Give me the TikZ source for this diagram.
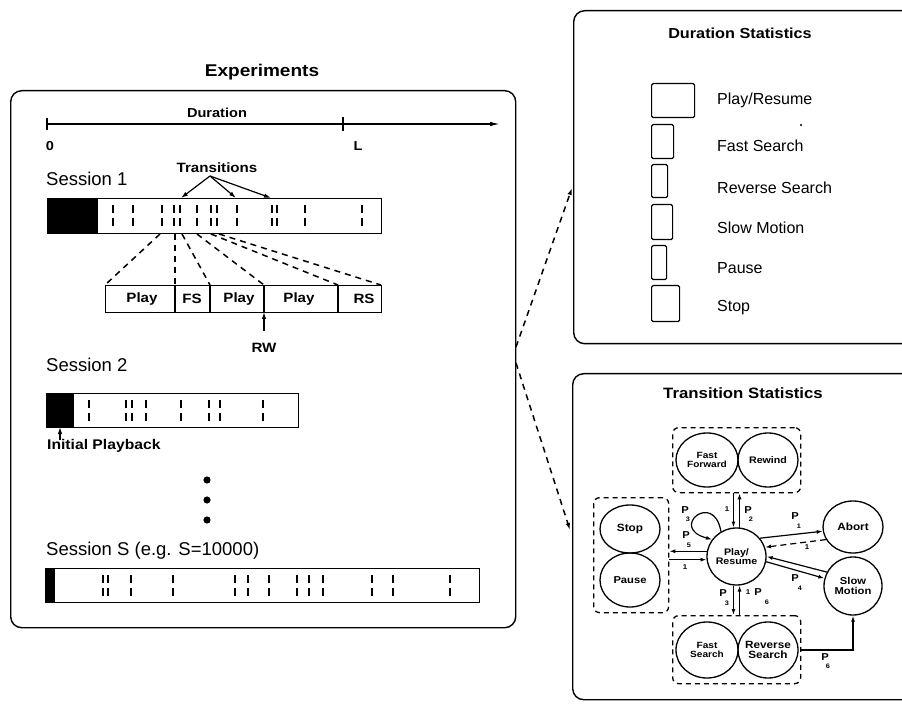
\documentclass[tikz,border=0pt]{standalone}
\usepackage{fontspec}
\setmainfont{Liberation Sans}
\newfontfamily\bw[FakeStretch=1.12]{Liberation Sans}
\usetikzlibrary{arrows.meta,shapes.geometric}
\newcommand\myfs[1]{\fontsize{#1}{#1}\selectfont}
\tikzset{
  lw/.style={line width=1.3pt},
  panel/.style={draw, line width=1.4pt, rounded corners=11pt, inner sep=0pt, anchor=north west},
  btxt/.style={inner sep=0pt, font=\bw\bfseries\myfs{#1}},
  rtxt/.style={inner sep=0pt, font=\myfs{#1}, anchor=base west},
  bar/.style={draw, line width=1.3pt, inner sep=0pt, anchor=north west},
  tk/.style={line width=1.5pt, dash pattern=on 8pt off 5pt},
  zl/.style={line width=1.5pt, dash pattern=on 6pt off 5pt},
  arr/.style={line width=1.2pt, -{Latex[length=7pt,width=4.5pt]}},
  legsq/.style={draw, line width=1.2pt, rounded corners=1.5pt, inner sep=0pt, anchor=north west},
  st/.style={draw, ellipse, line width=1.3pt, inner sep=0pt},
  stt/.style={inner sep=0pt, align=center, font=\bw\bfseries\fontsize{#1}{#1}\selectfont},
  grp/.style={draw, line width=1.3pt, dash pattern=on 5pt off 4pt, rounded corners=6pt, inner sep=0pt, anchor=north west},
  ge/.style={line width=1.2pt, -{Latex[length=6pt,width=4pt]}},
  plab/.style={inner sep=0pt, font=\bw\bfseries\myfs{10}},
  psub/.style={inner sep=0pt, font=\bw\bfseries\myfs{6.5}},
  one/.style={inner sep=0pt, font=\bw\bfseries\myfs{7}},
}
\begin{document}
\begin{tikzpicture}[x=1pt,y=-1pt]
\clip (0,0) rectangle (902,708);
\fill[white] (0,0) rectangle (902,708);

% ---------------- Experiments ----------------
\node[btxt=17] (exptitle) at (262,72) {Experiments};
\node[panel, minimum width=505pt, minimum height=537pt] (expbox) at (10,90) {};

% duration axis
\coordinate (ax0) at (47,124);
\coordinate (axE) at (500,124);
\draw[line width=1.3pt, -{Latex[length=10pt,width=4.5pt]}] (ax0) -- (axE);
\draw[line width=1.3pt] (47,118) -- (47,130) (343,117) -- (343,131);
\node[btxt=13] (durlab) at (217,113) {Duration};
\node[btxt=13] (zero) at (50,146) {0};
\node[btxt=13] (ell) at (358,146) {L};

% Session 1
\node[rtxt=18.5] (s1lab) at (46,186) {Session 1};
\fill (47,198) rectangle (98,233);
\node[bar, minimum width=334pt, minimum height=35pt] (bar1) at (47,198) {};
\foreach \x in {113,133,162,174,180,197,211,217,237,272,277,305,362}
  \draw[tk] (\x,205) -- (\x,227);

\node[btxt=13.5] (trans) at (217,168) {Transitions};
\coordinate (tap) at (210,176);
\foreach \x [count=\i] in {181,236,271} {
  \coordinate (tt\i) at (\x,198);
  \draw[arr] (tap) -- (tt\i);
}

% expanded segment
\node[bar, minimum width=276pt, minimum height=27pt] (seg) at (105,285) {};
\draw[lw] (175,285) -- (175,312) (210,285) -- (210,312)
          (264,285) -- (264,312) (338,285) -- (338,312);
\node[btxt=13.5] (sp1) at (142,299) {Play};
\node[btxt=13.5] (sfs) at (192,299) {FS};
\node[btxt=13.5] (sp2) at (239,299) {Play};
\node[btxt=13.5] (sp3) at (299,299) {Play};
\node[btxt=13.5] (srs) at (364,299) {RS};
\foreach \a/\b [count=\i] in {160/105,175/175,182/210,197/264,211/338,219/381} {
  \coordinate (zs\i) at (\a,234);
  \coordinate (ze\i) at (\b,285);
  \draw[zl] (zs\i) -- (ze\i);
}
\node[btxt=13.5] (rw) at (264,348) {RW};
\coordinate (rwtail) at (264,331);
\coordinate (rwtip) at (264,312);
\draw[arr] (rwtail) -- (rwtip);

% Session 2
\node[rtxt=18.5] (s2lab) at (46,371) {Session 2};
\fill (46,393) rectangle (74,427);
\node[bar, minimum width=252pt, minimum height=34pt] (bar2) at (46,393) {};
\foreach \x in {89,126,132,146,181,209,220,263}
  \draw[tk] (\x,400) -- (\x,421);
\node[btxt=14, anchor=west] (initlab) at (47,446) {Initial Playback};
\coordinate (iptail) at (60,440);
\coordinate (iptip) at (60,427);
\draw[arr] (iptail) -- (iptip);

% dots
\fill (207,480) circle (3.6) (207,500) circle (3.6) (207,520) circle (3.6);

% Session S
\node[rtxt=18.5] (sslab) at (46,555) {Session S (e.g. S=10000)};
\fill (45,568) rectangle (55,602);
\node[bar, minimum width=434pt, minimum height=34pt] (barS) at (45,568) {};
\foreach \x in {103,108,131,173,235,248,269,297,309,323,372,393,450}
  \draw[tk] (\x,575) -- (\x,596);

% ---------------- Duration Statistics ----------------
\node[panel, minimum width=400pt, minimum height=333pt] (dstat) at (573,10) {};
\node[btxt=14.5] (dtitle) at (740,33) {Duration Statistics};
\node[legsq, minimum width=43pt, minimum height=34pt] (q1) at (651,83) {};
\node[legsq, minimum width=22pt, minimum height=34pt] (q2) at (651,124) {};
\node[legsq, minimum width=16pt, minimum height=33pt] (q3) at (651,164) {};
\node[legsq, minimum width=21pt, minimum height=35pt] (q4) at (651,204) {};
\node[legsq, minimum width=15pt, minimum height=34pt] (q5) at (651,245) {};
\node[legsq, minimum width=28pt, minimum height=36pt] (q6) at (651,285) {};
\node[rtxt=16] (l1) at (717,104.5) {Play/Resume};
\node[rtxt=16] (l2) at (717,151.5) {Fast Search};
\node[rtxt=16] (l3) at (717,193.5) {Reverse Search};
\node[rtxt=16] (l4) at (717,233.5) {Slow Motion};
\node[rtxt=16] (l5) at (717,273.5) {Pause};
\node[rtxt=16] (l6) at (717,311.5) {Stop};
\fill (801,125) circle (1.2);

% connectors from experiments
\coordinate (o1) at (516,347);
\coordinate (o2) at (516,363);
\coordinate (i1) at (572,188);
\coordinate (i2) at (570,530);
\draw[zl, -{Latex[length=7pt,width=4.5pt]}] (o1) -- (i1);
\draw[zl, -{Latex[length=7pt,width=4.5pt]}] (o2) -- (i2);

% ---------------- Transition Statistics ----------------
\node[panel, minimum width=400pt, minimum height=326pt] (tstat) at (572,373) {};
\node[btxt=15] (ttitle) at (743,393) {Transition Statistics};

\node[grp, minimum width=128pt, minimum height=65pt] (ffg) at (672,427) {};
\node[grp, minimum width=75pt, minimum height=115pt] (spg) at (593,497) {};
\node[grp, minimum width=128pt, minimum height=68pt] (fsg) at (672,615) {};

\node[st, minimum width=62pt, minimum height=54pt] (ff) at (707,460) {};
\node[st, minimum width=60pt, minimum height=54pt] (rew) at (768,460) {};
\node[st, minimum width=59pt, minimum height=57pt] (play) at (736.5,556.5) {};
\node[st, minimum width=60pt, minimum height=52pt] (abort) at (853,527) {};
\node[st, minimum width=58pt, minimum height=58pt] (slow) at (853,586) {};
\node[st, minimum width=60pt, minimum height=48pt] (stop) at (630,529) {};
\node[st, minimum width=60pt, minimum height=54pt] (pause) at (630,580) {};
\node[st, minimum width=62pt, minimum height=56pt] (fs) at (707,650) {};
\node[st, minimum width=60pt, minimum height=56pt] (rs) at (768,650) {};

\node[stt=9] (fft) at (ff) {Fast\\Forward};
\node[stt=9.5] (rewt) at (rew) {Rewind};
\node[stt=9.5] (playt) at (play) {Play/\\Resume};
\node[stt=10.5] (abortt) at (abort) {Abort};
\node[stt=10] (slowt) at (slow) {Slow\\Motion};
\node[stt=10.5] (stopt) at (stop) {Stop};
\node[stt=10] (pauset) at (pause) {Pause};
\node[stt=9] (fst) at (fs) {Fast\\Search};
\node[stt=10.5] (rst) at (rs) {Reverse\\Search};

% edges
\draw[ge] (ffg.south -| play.96) -- (play.96);
\draw[ge] (play.84) -- (ffg.south -| play.84);
\node[one] (n1a) at (727,509) {1};
\node[plab] (p2) at (748,510) {P};
\node[psub] (p2s) at (751,519) {2};

\draw[ge] (play.122) .. controls (714,490) and (668,528) .. (play.145);
\node[plab] (p3) at (685,510) {P};
\node[psub] (p3s) at (688,519) {3};

\draw[ge] (play.170) -- (spg.east |- play.170);
\draw[ge] (spg.east |- play.186) -- (play.186);
\node[plab] (p5) at (686,535) {P};
\node[psub] (p5s) at (689,545) {5};
\node[one] (n1b) at (685,567) {1};

\draw[ge] (play.38) -- (abort.188);
\draw[ge, dash pattern=on 6pt off 4pt] (abort.205) -- (play.18);
\node[plab] (p1) at (795,516) {P};
\node[psub] (p1s) at (799,526) {1};
\node[one] (n1c) at (807,547) {1};

\draw[ge] (slow.152) -- (play.0);
\draw[ge] (play.350) -- (slow.165);
\node[plab] (p4) at (795,578) {P};
\node[psub] (p4s) at (800,588) {4};

\draw[ge] (play.264) -- (fsg.north -| play.264);
\draw[ge] (fsg.north -| play.276) -- (play.276);
\node[plab] (p3b) at (723,593) {P};
\node[psub] (p3bs) at (727,603) {3};
\node[one] (n1d) at (748,592) {1};
\node[plab] (p6a) at (758,592) {P};
\node[psub] (p6as) at (767,602) {6};

\draw[ge] (fsg.east |- rs) -| (slow.south);
\node[plab] (p6) at (825,657) {P};
\node[psub] (p6s) at (828,666) {6};
\end{tikzpicture}
\end{document}
